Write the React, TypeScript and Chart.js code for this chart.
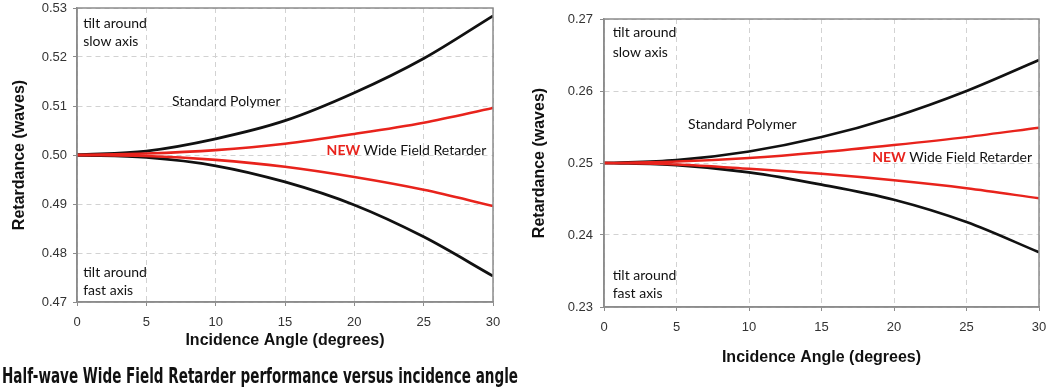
import React, { useEffect, useRef } from "react";
import { Chart, registerables } from "chart.js";

Chart.register(...registerables);

// Incidence angle (degrees)
const angles = [0, 5, 10, 15, 20, 25, 30];

// Half-wave retarder (left chart)
const halfStdSlow = [0.5, 0.5008, 0.5033, 0.507, 0.5127, 0.5197, 0.5284];
const halfStdFast = [0.5, 0.4995, 0.4978, 0.4945, 0.4898, 0.4833, 0.4753];
const halfNewSlow = [0.5, 0.5003, 0.501, 0.5023, 0.5043, 0.5066, 0.5096];
const halfNewFast = [0.5, 0.4998, 0.499, 0.4976, 0.4955, 0.4929, 0.4896];

// Quarter-wave retarder (right chart)
const quarterStdSlow = [0.25, 0.2504, 0.2516, 0.2536, 0.2564, 0.26, 0.2643];
const quarterStdFast = [0.25, 0.2497, 0.2487, 0.247, 0.2449, 0.2418, 0.2376];
const quarterNewSlow = [0.25, 0.2502, 0.2507, 0.2515, 0.2525, 0.2536, 0.2549];
const quarterNewFast = [0.25, 0.2498, 0.2492, 0.2485, 0.2476, 0.2465, 0.2451];

const halfYRange = [0.47, 0.53];
const quarterYRange = [0.23, 0.27];

const xTitle = "Incidence Angle (degrees)";
const yTitle = "Retardance (waves)";
const caption = "Half-wave Wide Field Retarder performance versus incidence angle";

const BLACK = "#111111";
const RED = "#e8231c";
const NOTE_FONT = "14px Lato, 'Open Sans', sans-serif";
const NEW_FONT = "bold 14px Lato, 'Open Sans', sans-serif";

type Part = { text: string; font: string; color: string };
type Note = { x: number; y: number; parts: Part[] };

const plain = (t: string): Part[] => [{ text: t, font: NOTE_FONT, color: "#111" }];
const newLabel = (): Part[] => [
  { text: "NEW ", font: NEW_FONT, color: RED },
  { text: "Wide Field Retarder", font: NOTE_FONT, color: "#111" },
];

const halfNotes: Note[] = [
  { x: 0.45, y: 0.5269, parts: plain("tilt around") },
  { x: 0.45, y: 0.5231, parts: plain("slow axis") },
  { x: 0.45, y: 0.4761, parts: plain("tilt around") },
  { x: 0.45, y: 0.4724, parts: plain("fast axis") },
  { x: 6.85, y: 0.511, parts: plain("Standard Polymer") },
  { x: 18.0, y: 0.501, parts: newLabel() },
];

const quarterNotes: Note[] = [
  { x: 0.6, y: 0.2681, parts: plain("tilt around") },
  { x: 0.6, y: 0.2654, parts: plain("slow axis") },
  { x: 0.6, y: 0.2344, parts: plain("tilt around") },
  { x: 0.6, y: 0.2319, parts: plain("fast axis") },
  { x: 5.8, y: 0.2553, parts: plain("Standard Polymer") },
  { x: 18.5, y: 0.2507, parts: newLabel() },
];

const notesPlugin = {
  id: "notesFrame",
  afterDatasetsDraw(chart: any, _args: any, opts: any) {
    const { ctx, chartArea, scales } = chart;
    ctx.save();
    ctx.strokeStyle = "#8c8c8c";
    ctx.lineWidth = 1.5;
    ctx.strokeRect(chartArea.left, chartArea.top, chartArea.right - chartArea.left, chartArea.bottom - chartArea.top);
    ctx.textBaseline = "middle";
    ctx.textAlign = "left";
    for (const n of (opts.items || []) as Note[]) {
      let px = scales.x.getPixelForValue(n.x);
      const py = scales.y.getPixelForValue(n.y);
      for (const p of n.parts) {
        ctx.font = p.font;
        ctx.fillStyle = p.color;
        ctx.fillText(p.text, px, py);
        px += ctx.measureText(p.text).width;
      }
    }
    ctx.restore();
  },
};

type Spec = {
  width: number;
  height: number;
  padTop: number;
  padRight: number;
  yWidth: number;
  xHeight: number;
  yRange: number[];
  series: { values: number[]; color: string; width: number }[];
  notes: Note[];
  yTitlePad: number;
  yTickPad: number;
  xTickPad: number;
  xTitlePad: number;
  titleSize: number;
};

function makeConfig(s: Spec): any {
  const grid = { color: "#d2d2d2", lineWidth: 1, drawTicks: true, tickLength: 4, tickColor: "#8c8c8c", tickWidth: 1 };
  return {
    type: "line",
    data: {
      datasets: s.series.map((d) => ({
        data: angles.map((a, i) => ({ x: a, y: d.values[i] })),
        borderColor: d.color,
        borderWidth: d.width,
        pointRadius: 0,
        fill: false,
        tension: 0.4,
        cubicInterpolationMode: "monotone",
      })),
    },
    options: {
      responsive: false,
      animation: false,
      events: [],
      layout: { padding: { top: s.padTop, right: s.padRight, left: 0, bottom: 0 } },
      plugins: {
        legend: { display: false },
        tooltip: { enabled: false },
        notesFrame: { items: s.notes },
      },
      scales: {
        x: {
          type: "linear",
          min: 0,
          max: 30,
          ticks: {
            stepSize: 5,
            padding: s.xTickPad,
            color: "#333",
            font: { family: "'Liberation Sans', Arial, sans-serif", size: 13 },
            maxRotation: 0,
          },
          grid,
          border: { display: true, color: "#8c8c8c", width: 1.5, dash: [5, 4] },
          title: {
            display: true,
            text: xTitle,
            color: "#111",
            font: { family: "'Liberation Sans', Arial, sans-serif", size: s.titleSize, weight: "bold" },
            padding: { top: 0, bottom: s.xTitlePad },
          },
          afterFit: (sc: any) => {
            sc.height = s.xHeight;
            sc.paddingLeft = 0;
            sc.paddingRight = 0;
          },
        },
        y: {
          type: "linear",
          min: s.yRange[0],
          max: s.yRange[1],
          ticks: {
            stepSize: 0.01,
            padding: s.yTickPad,
            color: "#333",
            font: { family: "'Liberation Sans', Arial, sans-serif", size: 13 },
            callback: (v: any) => Number(v).toFixed(2),
          },
          grid,
          border: { display: true, color: "#8c8c8c", width: 1.5, dash: [5, 4] },
          title: {
            display: true,
            text: yTitle,
            color: "#111",
            font: { family: "'Liberation Sans', Arial, sans-serif", size: s.titleSize, weight: "bold" },
            padding: { top: s.yTitlePad, bottom: 0 },
          },
          afterFit: (sc: any) => {
            sc.width = s.yWidth;
            sc.paddingTop = 0;
            sc.paddingBottom = 0;
          },
        },
      },
    },
    plugins: [notesPlugin],
  };
}

function RetarderChart({ spec, left, top }: { spec: Spec; left: number; top: number }) {
  const ref = useRef<HTMLCanvasElement | null>(null);
  useEffect(() => {
    if (!ref.current) return;
    const chart = new Chart(ref.current, makeConfig(spec));
    return () => chart.destroy();
  }, [spec]);
  return (
    <canvas
      ref={ref}
      width={spec.width}
      height={spec.height}
      style={{ position: "absolute", left, top, width: spec.width, height: spec.height }}
    />
  );
}

const halfSpec: Spec = {
  width: 505,
  height: 355,
  padTop: 8,
  padRight: 12,
  yWidth: 77,
  xHeight: 53,
  yRange: halfYRange,
  series: [
    { values: halfNewSlow, color: RED, width: 2.6 },
    { values: halfNewFast, color: RED, width: 2.6 },
    { values: halfStdSlow, color: BLACK, width: 2.8 },
    { values: halfStdFast, color: BLACK, width: 2.8 },
  ],
  notes: halfNotes,
  yTitlePad: 10,
  yTickPad: 6,
  xTickPad: 9,
  xTitlePad: 5,
  titleSize: 16,
};

const quarterSpec: Spec = {
  width: 531,
  height: 388,
  padTop: 19,
  padRight: 12,
  yWidth: 84,
  xHeight: 81,
  yRange: quarterYRange,
  series: [
    { values: quarterNewSlow, color: RED, width: 2.4 },
    { values: quarterNewFast, color: RED, width: 2.4 },
    { values: quarterStdSlow, color: BLACK, width: 2.6 },
    { values: quarterStdFast, color: BLACK, width: 2.6 },
  ],
  notes: quarterNotes,
  yTitlePad: 10,
  yTickPad: 7,
  xTickPad: 9,
  xTitlePad: 21,
  titleSize: 16,
};

export default function App() {
  return (
    <div style={{ position: "fixed", left: 0, top: 0, width: 1051, height: 388, background: "#fff", overflow: "hidden" }}>
      <RetarderChart spec={halfSpec} left={0} top={0} />
      <RetarderChart spec={quarterSpec} left={520} top={0} />
      <svg width={522} height={33} style={{ position: "absolute", left: 0, top: 355 }}>
        <text
          x={2}
          y={28}
          textLength={516}
          lengthAdjust="spacingAndGlyphs"
          fontFamily="'Liberation Sans Narrow', 'DejaVu Sans Condensed', 'Roboto Condensed', sans-serif"
          fontWeight="bold"
          fontSize={21}
          fill="#111"
        >
          {caption}
        </text>
      </svg>
    </div>
  );
}
